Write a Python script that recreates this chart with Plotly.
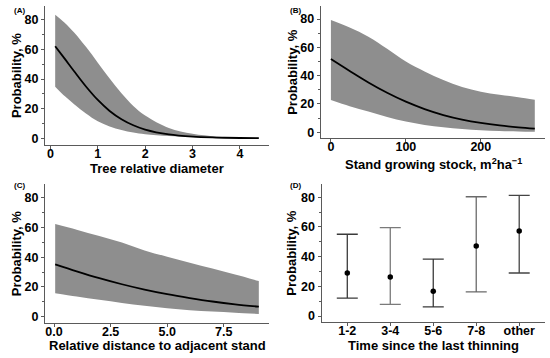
import plotly.graph_objects as go

# ---- data ----
a_x = [0.1, 0.3, 0.5, 0.75, 1.0, 1.25, 1.5, 1.75, 2.0, 2.5, 3.0, 3.5, 4.0, 4.4]
a_mean = [62.2, 53.8, 45.3, 35.0, 25.9, 18.5, 12.9, 8.8, 5.9, 2.6, 1.1, 0.5, 0.2, 0.1]
a_up = [83.5, 78.1, 71.5, 61.8, 51.1, 40.4, 30.4, 21.9, 15.4, 7.0, 3.1, 1.3, 0.5, 0.3]
a_lo = [34.9, 28.5, 23.0, 16.8, 11.5, 8.0, 5.6, 3.9, 2.8, 1.5, 0.8, 0.4, 0.15, 0.08]

b_x = [0, 25, 50, 75, 100, 125, 150, 175, 200, 225, 250, 272]
b_mean = [51.7, 43.3, 35.2, 27.9, 21.6, 16.4, 12.2, 9.0, 6.6, 4.8, 3.5, 2.6]
b_up = [79.3, 74.0, 67.5, 59.0, 50.0, 43.0, 37.0, 32.0, 28.7, 26.5, 24.8, 23.0]
b_lo = [22.8, 18.4, 14.6, 10.8, 7.6, 5.2, 3.5, 2.3, 1.4, 0.9, 0.6, 0.4]

c_x = [0.05, 1, 2, 3, 4, 5, 6, 7, 8, 9.05]
c_mean = [35.2, 30.5, 25.9, 21.8, 18.2, 15.1, 12.5, 10.2, 8.3, 6.7]
c_up = [62.3, 58.5, 54.2, 49.8, 44.5, 40.3, 36.3, 32.3, 28.3, 24.0]
c_lo = [15.7, 13.5, 11.3, 9.2, 7.3, 5.7, 4.4, 3.4, 2.6, 1.8]

d_cat = ["1-2", "3-4", "5-6", "7-8", "other"]
d_mean = [29.0, 26.3, 16.6, 47.2, 57.3]
d_up = [55.1, 59.6, 38.4, 80.4, 81.3]
d_lo = [12.1, 7.9, 6.1, 16.2, 29.0]
d_col = ["#3a3a3a", "#7a7a7a", "#3a3a3a", "#6a6a6a", "#444444"]

y_ticks = [0, 20, 40, 60, 80]
y_range = [-4.25, 89.25]

x_titles = ["Tree relative diameter",
            "Stand growing stock, m<sup>2</sup>ha<sup>\u22121</sup>",
            "Relative distance to adjacent stand",
            "Time since the last thinning"]
y_title = "Probability, %"
panel_labels = ["(A)", "(B)", "(C)", "(D)"]

FILL = "#8e8e8e"
AX = "#5a5a5a"
FONT = "Liberation Sans, Arial, sans-serif"

fig = go.Figure()

def band(x, lo, up, mean, xa, ya):
    fig.add_trace(go.Scatter(x=x, y=lo, mode="lines", line=dict(width=0, shape="spline"),
                             showlegend=False, hoverinfo="skip", xaxis=xa, yaxis=ya))
    fig.add_trace(go.Scatter(x=x, y=up, mode="lines", line=dict(width=0, shape="spline"),
                             fill="tonexty", fillcolor=FILL, showlegend=False,
                             hoverinfo="skip", xaxis=xa, yaxis=ya))
    fig.add_trace(go.Scatter(x=x, y=mean, mode="lines",
                             line=dict(color="black", width=1.8, shape="spline"),
                             showlegend=False, xaxis=xa, yaxis=ya))

band(a_x, a_lo, a_up, a_mean, "x", "y")
band(b_x, b_lo, b_up, b_mean, "x2", "y2")
band(c_x, c_lo, c_up, c_mean, "x3", "y3")

for i, cat in enumerate(d_cat):
    fig.add_trace(go.Scatter(
        x=[cat], y=[d_mean[i]], mode="markers",
        marker=dict(color="black", size=5.5),
        error_y=dict(type="data", symmetric=False,
                     array=[d_up[i] - d_mean[i]], arrayminus=[d_mean[i] - d_lo[i]],
                     color=d_col[i], thickness=1.3, width=10.5),
        showlegend=False, xaxis="x4", yaxis="y4"))

W, H = 550, 358
def fx(p): return p / W
def fy(p): return 1 - p / H

tickfont = dict(family=FONT, size=12.5, color="black", weight="bold")
titlefont = dict(family=FONT, size=13, color="black", weight="bold")

common_x = dict(showline=True, linecolor=AX, linewidth=1, ticks="outside", ticklen=3,
                tickcolor=AX, showgrid=False, zeroline=False, tickfont=tickfont,
                ticklabelstandoff=-6)
common_y = dict(showline=True, linecolor=AX, linewidth=1, ticks="outside", ticklen=3,
                tickcolor=AX, showgrid=False, zeroline=False, tickfont=tickfont,
                range=y_range, tickvals=y_ticks,
                minor=dict(ticks="outside", ticklen=2, tickcolor=AX, dtick=10, tick0=0))

dom_x = [(45, 269), (320.7, 545), (45, 269), (321.5, 545)]
dom_y = [(6.2, 144.6), (5.9, 138.3), (183.9, 323.0), (183.6, 322.3)]

fig.update_layout(
    width=W, height=H, margin=dict(l=0, r=0, t=0, b=0),
    paper_bgcolor="white", plot_bgcolor="white",
    xaxis=dict(common_x, domain=[fx(dom_x[0][0]), fx(dom_x[0][1])], range=[-0.115, 4.615],
               tickvals=[0, 1, 2, 3, 4], anchor="y"),
    yaxis=dict(common_y, domain=[fy(dom_y[0][1]), fy(dom_y[0][0])], anchor="x"),
    xaxis2=dict(common_x, domain=[fx(dom_x[1][0]), fx(dom_x[1][1])], range=[-13.6, 285.6],
                tickvals=[0, 100, 200], anchor="y2"),
    yaxis2=dict(common_y, domain=[fy(dom_y[1][1]), fy(dom_y[1][0])], anchor="x2"),
    xaxis3=dict(common_x, domain=[fx(dom_x[2][0]), fx(dom_x[2][1])], range=[-0.4, 9.5],
                tickvals=[0, 2.5, 5, 7.5], ticktext=["0.0", "2.5", "5.0", "7.5"], anchor="y3"),
    yaxis3=dict(common_y, domain=[fy(dom_y[2][1]), fy(dom_y[2][0])], anchor="x3"),
    xaxis4=dict(common_x, domain=[fx(dom_x[3][0]), fx(dom_x[3][1])], range=[-0.6, 4.6],
                type="category", categoryorder="array", categoryarray=d_cat, anchor="y4"),
    yaxis4=dict(common_y, domain=[fy(dom_y[3][1]), fy(dom_y[3][0])], anchor="x4"),
)

# axis titles as annotations (paper coordinates)
xt_pos = [(157, 168.8), (433, 164.0), (157, 345.3), (433, 345.3)]
yt_pos = [(16.7, 75.4), (291.7, 72.1), (16.7, 253.5), (291.7, 253.0)]
lab_pos = [(12, 10), (288, 10), (12, 186), (288, 186)]
for i in range(4):
    fig.add_annotation(text=x_titles[i], x=fx(xt_pos[i][0]), y=fy(xt_pos[i][1]),
                       xref="paper", yref="paper", xanchor="center", yanchor="middle",
                       showarrow=False, font=titlefont)
    fig.add_annotation(text=y_title, x=fx(yt_pos[i][0]), y=fy(yt_pos[i][1]),
                       xref="paper", yref="paper", xanchor="center", yanchor="middle",
                       textangle=-90, showarrow=False, font=titlefont)
    fig.add_annotation(text=panel_labels[i], x=fx(lab_pos[i][0]), y=fy(lab_pos[i][1]),
                       xref="paper", yref="paper", xanchor="left", yanchor="middle",
                       showarrow=False,
                       font=dict(family=FONT, size=8, color="black", weight="bold"))

fig.write_html("out.html", config={"displayModeBar": False},
               post_script="document.body.style.margin='0';document.body.style.overflow='hidden';")
